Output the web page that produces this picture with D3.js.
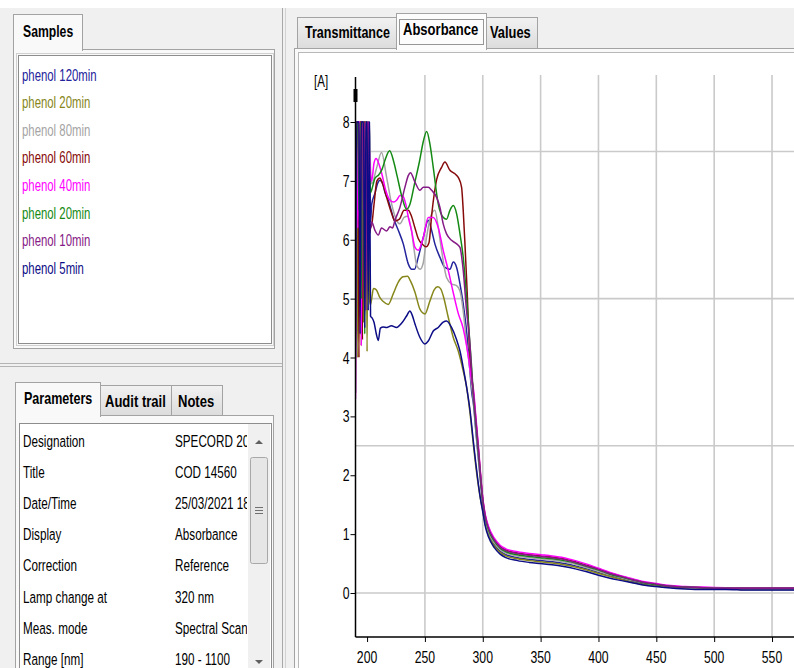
<!DOCTYPE html>
<html><head><meta charset="utf-8">
<script src="https://cdn.jsdelivr.net/npm/d3@7"></script>
<style>html,body{margin:0;padding:0;background:#f0f0f0;overflow:hidden}svg{display:block}</style>
</head><body><svg id="app" width="794" height="668"></svg>
<script>
// ---- samples ----
const sampleNames = ["phenol 120min","phenol 20min","phenol 80min","phenol 60min","phenol 40min","phenol 20min","phenol 10min","phenol 5min"];
const sampleColors = ["#23239c","#86861a","#a4a4a4","#870a0a","#ff00ff","#148a14","#861a86","#0c0c86"];

// ---- parameter table ----
const paramNames = ["Designation","Title","Date/Time","Display","Correction","Lamp change at","Meas. mode","Range [nm]"];
const paramValues = ["SPECORD 200","COD 14560","25/03/2021 18:","Absorbance","Reference","320 nm","Spectral Scan","190 - 1100"];

// ---- axes ----
const xTicks = [200,250,300,350,400,450,500,550];
const xGrid = [250,300,350,400,450,500,550,600];
const yTicks = [0,1,2,3,4,5,6,7,8];
const yGrid = [0,2.5,5,7.5];

// ---- spectra: saturated start (190-203 nm), absorption band, falling edge + tail ----
const noiseNm = [190,191,192,193,194,195,196,197,198,199,200,201,202,203];
const tailNm = [292,294,296,298,300,302,305,310,315,320,330,340,350,360,370,380,390,400,410,420,430,440,450,460,475,490,510,530,550,570];

// phenol 120min
const noise120 = [7.2,8,8,6.0,8,8,8,4.6,8,8,5.2,8,8,6.3];
const bandNm120 = [204,207,209,211.1,213.5,215.5,218.3,222.6,227,231.3,235.6,238.5,241,244.2,248.6,252.9,255.8,258.6,263,267.3,271.6,274.5,277.4,280.3,283.1,286,288.9,290.5];
const band120 = [6.6,6.8,6.95,7.01,6.95,6.8,6.67,6.38,6.16,5.93,5.59,5.5,5.5,5.7,6.04,6.33,6.16,5.93,5.7,5.53,5.5,5.62,5.53,5.25,4.91,4.45,3.77,3.4];
const tail120 = [3.2,2.75,2.32,1.9,1.5,1.23,1.01,0.82,0.71,0.65,0.60,0.57,0.55,0.53,0.50,0.46,0.41,0.35,0.29,0.24,0.19,0.15,0.12,0.10,0.08,0.07,0.07,0.06,0.06,0.06];

// phenol 20min (olive)
const noise20a = [4.2,8,4.0,8,8,4.2,8,4.6,8,8,4.1,8,5.0,4.9];
const bandNm20a = [204,205.5,208,211,214,218.3,222.6,227,231,235,237.5,241.4,245.7,250,254.3,258,261,263.5,265.8,270.2,274.5,278.8,283.1,286,289];
const band20a = [5.0,5.17,5.15,5.02,4.95,4.9,5.08,5.28,5.37,5.38,5.3,5.11,4.82,4.74,4.96,5.15,5.2,5.17,5.05,4.68,4.34,4.11,3.77,3.5,3.05];
const tail20a = [2.5,2.15,1.85,1.6,1.4,1.18,0.98,0.80,0.69,0.63,0.58,0.55,0.53,0.51,0.48,0.44,0.39,0.33,0.28,0.23,0.18,0.14,0.12,0.10,0.08,0.07,0.07,0.06,0.06,0.06];

// phenol 80min
const noise80 = [5.5,6.6,8,5.6,8,8,6.0,8,8,6.8,8,7.0,8,7.2];
const bandNm80 = [204,208,212.5,216.9,221.2,225.5,228.4,232,235,238,240.5,243,246,248.5,251.4,255.8,258.6,261.5,264.4,268.7,273,277.4,280.3,283.1,286,288.5,290.5];
const band80 = [6.95,7.2,7.48,7.06,6.61,6.33,6.27,6.38,6.4,6.2,5.85,5.56,5.5,5.6,6.04,6.44,6.5,6.21,5.82,5.36,5.25,5.22,5.13,4.79,4.23,3.85,3.5];
const tail80 = [3.25,2.8,2.36,1.93,1.53,1.26,1.04,0.85,0.74,0.68,0.63,0.60,0.58,0.56,0.53,0.49,0.43,0.37,0.31,0.26,0.21,0.17,0.14,0.11,0.09,0.08,0.08,0.07,0.07,0.07];

// phenol 60min
const noise60 = [4.4,8,8,4.0,8,8,4.3,8,8,6.5,8,6.3,6.1,6.2];
const bandNm60 = [204,206,208.5,211,213.5,216.9,221.2,224.1,228,232,235.6,238,241.4,244.2,248,251,253.5,256,260.1,264.4,267.3,271.6,275.9,278.8,281.7,283.1,284.6,286.6,288.3,290.3];
const band60 = [6.25,6.6,7.0,7.05,6.95,6.72,6.45,6.32,6.35,6.5,6.5,6.42,6.2,6.02,5.92,5.88,5.95,6.45,7.02,7.23,7.32,7.18,7.12,7.06,6.89,6.5,5.93,5.08,4.23,3.7];
const tail60 = [3.4,2.95,2.5,2.02,1.6,1.33,1.11,0.91,0.79,0.73,0.68,0.65,0.63,0.61,0.58,0.53,0.47,0.41,0.34,0.28,0.23,0.18,0.15,0.12,0.10,0.09,0.09,0.08,0.08,0.08];

// phenol 40min
const noise40 = [3.3,8,6.2,8,8,4.2,8,8,7.2,8,6.5,8,7.5,7.1];
const bandNm40 = [204,206,207.8,210,213,216,219.8,223,225.5,228.5,231,233.5,236,238.5,241.4,244.2,248.6,252.9,257.2,261.5,265.8,270.2,274.5,278.8,283,286,288,290];
const band40 = [7.0,7.3,7.38,7.3,7.1,6.85,6.67,6.64,6.67,6.75,6.74,6.6,6.35,6.15,5.87,5.82,6.04,6.38,6.38,6.21,5.82,5.48,5.1,4.75,4.5,4.2,3.95,3.65];
const tail40 = [3.45,3.0,2.55,2.05,1.62,1.35,1.13,0.93,0.81,0.75,0.70,0.67,0.65,0.63,0.60,0.55,0.49,0.42,0.35,0.29,0.24,0.19,0.16,0.13,0.11,0.10,0.09,0.09,0.09,0.09];

// phenol 20min (green)
const noise20b = [4.6,8,8,6.5,8,5.0,8,8,4.4,8,8,5.8,7.1,6.8];
const bandNm20b = [204,207,210,213,216,219.5,223,226,230,234,237,241,245.5,248.5,251.5,254.3,257.2,261.5,265.8,268.7,271.6,274.5,277.4,280.3,283.1,286,288.9,290.5];
const band20b = [6.85,7.05,7.1,7.2,7.38,7.51,7.33,7.08,6.74,6.52,6.6,6.95,7.35,7.66,7.84,7.63,7.23,6.61,6.38,6.35,6.5,6.58,6.44,6.1,5.7,5.02,4.23,3.8];
const tail20b = [3.32,2.88,2.44,1.97,1.56,1.29,1.07,0.88,0.76,0.70,0.65,0.62,0.60,0.58,0.55,0.51,0.45,0.39,0.32,0.27,0.22,0.17,0.14,0.12,0.10,0.09,0.08,0.08,0.08,0.08];

// phenol 10min
const noise10 = [3.4,8,8,8,5.5,8,8,6.5,8,4.8,8,8,6.3,6.2];
const bandNm10 = [204,206.8,209.7,212.5,216.9,219.8,222,224.1,228.4,232.7,235.6,237.5,241.4,245.7,248.6,252.9,255.8,260.1,263,265.8,268.7,273,277.4,280.3,283.1,286,288.9,290.3];
const band10 = [6.3,6.16,6.08,6.2,6.15,6.22,6.2,6.33,6.55,6.89,7.09,7.14,6.98,6.84,6.89,6.89,6.84,6.72,6.55,6.27,6.1,5.99,5.93,5.87,5.48,4.79,4.23,3.77];
const tail10 = [3.35,2.92,2.48,2.0,1.58,1.31,1.09,0.9,0.78,0.72,0.67,0.64,0.62,0.60,0.57,0.52,0.46,0.40,0.33,0.28,0.22,0.18,0.15,0.12,0.10,0.09,0.08,0.08,0.08,0.08];

// phenol 5min
const noise5 = [4.0,8,8,8,4.4,8,8,8,4.5,8,8,4.8,8,4.7];
const bandNm5 = [204,206,208,209.7,211.5,214,217,221,225.5,229.8,234,237,239,241.4,245.7,250,252.9,257.2,261.5,265.8,268.7,273,277.4,280.3,283.1,286,289];
const band5 = [4.68,4.6,4.4,4.29,4.5,4.52,4.51,4.54,4.51,4.58,4.7,4.79,4.72,4.57,4.34,4.23,4.28,4.45,4.51,4.6,4.62,4.51,4.3,4.11,3.83,3.5,3.1];
const tail5 = [2.55,2.2,1.88,1.6,1.38,1.15,0.95,0.77,0.66,0.60,0.55,0.52,0.50,0.48,0.45,0.41,0.36,0.30,0.25,0.21,0.17,0.13,0.11,0.09,0.07,0.06,0.06,0.05,0.05,0.05];

const spectra = [
  [noise120, bandNm120, band120, tail120],
  [noise20a, bandNm20a, band20a, tail20a],
  [noise80, bandNm80, band80, tail80],
  [noise60, bandNm60, band60, tail60],
  [noise40, bandNm40, band40, tail40],
  [noise20b, bandNm20b, band20b, tail20b],
  [noise10, bandNm10, band10, tail10],
  [noise5, bandNm5, band5, tail5]
].map(([nz, bn, b, t]) => [
  ...noiseNm.map((x, i) => [x, nz[i]]),
  ...bn.map((x, i) => [x, b[i]]),
  ...tailNm.map((x, i) => [x, t[i]])
]);

// ---------------------------------------------------------------
const svg = d3.select("#app");
const FONT = "'Liberation Sans', Arial, sans-serif";

function label(parent, x, y, s, o = {}) {
  return parent.append("text")
    .attr("transform", `translate(${x},${y}) scale(${o.sx || 0.7},1)`)
    .attr("font-family", FONT)
    .attr("font-size", o.size || 16.5)
    .attr("font-weight", o.bold ? "bold" : "normal")
    .attr("fill", o.fill || "#000")
    .attr("text-anchor", o.anchor || "start")
    .text(s);
}
function box(parent, x, y, w, h, fill, stroke) {
  return parent.append("rect").attr("x", x).attr("y", y).attr("width", w).attr("height", h)
    .attr("fill", fill).attr("stroke", stroke || "none").attr("stroke-width", 1);
}

const defs = svg.append("defs");
const tabGrad = defs.append("linearGradient").attr("id", "tabGrad").attr("x1", 0).attr("y1", 0).attr("x2", 0).attr("y2", 1);
tabGrad.append("stop").attr("offset", "0%").attr("stop-color", "#f2f2f2");
tabGrad.append("stop").attr("offset", "100%").attr("stop-color", "#dcdcdc");

// window background
box(svg, 0, 0, 794, 668, "#f0f0f0");
box(svg, 0, 0, 794, 8, "#ffffff");

// ---------- left: Samples ----------
const left = svg.append("g");
box(left, 13.5, 49.5, 261, 299, "#f9f9f9", "#a3a3a3");
box(left, 13.5, 14.5, 69, 36, "#f9f9f9", "#a3a3a3");
box(left, 14, 48, 68, 3, "#f9f9f9");
label(left, 23, 37, "Samples", {bold: true, sx: 0.74});
box(left, 18.5, 55.5, 253, 288, "#ffffff", "#8d8d8d");
box(left, 16.5, 53.5, 257, 292, "none", "#d0d0d0");
sampleNames.forEach((n, i) => label(left, 22, 80.5 + i * 27.6, n, {fill: sampleColors[i], sx: 0.69}));

// splitters
left.append("line").attr("x1", 0).attr("x2", 283).attr("y1", 363.5).attr("y2", 363.5).attr("stroke", "#b4b4b4");
left.append("line").attr("x1", 0).attr("x2", 283).attr("y1", 366.5).attr("y2", 366.5).attr("stroke", "#b4b4b4");
svg.append("line").attr("x1", 282.5).attr("x2", 282.5).attr("y1", 8).attr("y2", 668).attr("stroke", "#a8a8a8");
svg.append("line").attr("x1", 285.5).attr("x2", 285.5).attr("y1", 8).attr("y2", 668).attr("stroke", "#d2d2d2");

// ---------- left: Parameters ----------
box(left, 15.5, 415.5, 258, 260, "#f9f9f9", "#a3a3a3");
box(left, 100.5, 385.5, 71, 30, "url(#tabGrad)", "#a3a3a3");
box(left, 171.5, 385.5, 51, 30, "url(#tabGrad)", "#a3a3a3");
box(left, 15.5, 382.5, 85, 34, "#f9f9f9", "#a3a3a3");
box(left, 16, 414, 84, 3, "#f9f9f9");
label(left, 24, 404, "Parameters", {bold: true, sx: 0.76});
label(left, 105, 407, "Audit trail", {bold: true, sx: 0.79});
label(left, 178, 407, "Notes", {bold: true, sx: 0.79});
box(left, 19.5, 423.5, 252, 260, "#ffffff", "#8d8d8d");

defs.append("clipPath").attr("id", "valClip").append("rect").attr("x", 20).attr("y", 424).attr("width", 227).attr("height", 260);
const rows = left.append("g").attr("clip-path", "url(#valClip)");
paramNames.forEach((n, i) => {
  const y = 446.5 + i * 31.2;
  label(rows, 23, y, n, {sx: 0.71});
  label(rows, 175, y, paramValues[i], {sx: 0.71});
});

// scrollbar
const sb = left.append("g");
box(sb, 248, 424, 22, 260, "#f0f0f0");
sb.append("path").attr("d", "M255,444 L259,440 L263,444 Z").attr("fill", "#606060");
sb.append("rect").attr("x", 250.5).attr("y", 457.5).attr("width", 17).attr("height", 106).attr("rx", 2)
  .attr("fill", "#e6e6e6").attr("stroke", "#a8a8a8");
[507.5, 510.5, 513.5].forEach(y => sb.append("line").attr("x1", 255).attr("x2", 263).attr("y1", y).attr("y2", y).attr("stroke", "#707070"));
sb.append("path").attr("d", "M255,660 L259,664 L263,660 Z").attr("fill", "#606060");

// ---------- right: tabs + chart panel ----------
const right = svg.append("g");
box(right, 294.5, 48.5, 520, 640, "#f9f9f9", "#a3a3a3");
box(right, 297.5, 17.5, 99, 31, "url(#tabGrad)", "#a3a3a3");
box(right, 486.5, 17.5, 51, 31, "url(#tabGrad)", "#a3a3a3");
box(right, 396.5, 13.5, 90, 36, "#fcfcfc", "#a3a3a3");
box(right, 397, 47, 89, 3, "#fcfcfc");
label(right, 305, 37.5, "Transmittance", {bold: true, sx: 0.76});
label(right, 403, 35, "Absorbance", {bold: true, sx: 0.79});
label(right, 490, 37.5, "Values", {bold: true, sx: 0.78});
right.append("rect").attr("x", 399.5).attr("y", 19.5).attr("width", 84).attr("height", 25)
  .attr("fill", "none").attr("stroke", "#303030").attr("stroke-dasharray", "1,1");
box(right, 298.5, 52.5, 520, 640, "#ffffff", "#b8b8b8");

// ---------- plot ----------
const x = d3.scaleLinear().domain([190, 570]).range([355.5, 355.5 + 380 * 1.157]);
const y = d3.scaleLinear().domain([0, 8]).range([593, 122]);
const plotTop = 75, plotBottom = 637, plotLeft = 355.5, plotRight = 794;

const plot = svg.append("g");
plot.selectAll(".vg").data(xGrid).join("line")
  .attr("x1", d => x(d)).attr("x2", d => x(d)).attr("y1", plotTop).attr("y2", plotBottom)
  .attr("stroke", "#cacaca").attr("stroke-width", 1.6);
plot.selectAll(".hg").data(yGrid).join("line")
  .attr("x1", plotLeft).attr("x2", plotRight).attr("y1", d => y(d)).attr("y2", d => y(d))
  .attr("stroke", "#cacaca").attr("stroke-width", 1.6);

defs.append("clipPath").attr("id", "plotClip").append("rect")
  .attr("x", plotLeft).attr("y", plotTop).attr("width", plotRight - plotLeft).attr("height", plotBottom - plotTop);

const line = d3.line().x(d => x(d[0])).y(d => y(d[1])).curve(d3.curveMonotoneX);
plot.append("g").attr("clip-path", "url(#plotClip)")
  .selectAll("path").data(spectra).join("path")
  .attr("d", line).attr("fill", "none")
  .attr("stroke", (d, i) => sampleColors[i]).attr("stroke-width", 1.5).attr("stroke-linejoin", "round");

// y axis
const yAxis = d3.axisLeft(y).tickValues(yTicks).tickSize(5).tickPadding(3).tickFormat(d3.format("d"));
const ya = plot.append("g").attr("transform", `translate(${plotLeft},0)`).call(yAxis);
ya.select(".domain").remove();
ya.selectAll("line").attr("stroke", "#000");
ya.selectAll("text").remove();
yTicks.forEach(t => label(plot, plotLeft - 6, y(t) + 6, String(t), {size: 17, anchor: "end", sx: 0.72}));
plot.append("line").attr("x1", plotLeft).attr("x2", plotLeft).attr("y1", 77).attr("y2", plotBottom)
  .attr("stroke", "#000").attr("stroke-width", 1.5);
plot.append("rect").attr("x", plotLeft - 2).attr("y", 89).attr("width", 4).attr("height", 13).attr("fill", "#000");

// x axis
const xAxis = d3.axisBottom(x).tickValues(xTicks).tickSize(5).tickFormat(d3.format("d"));
const xa = plot.append("g").attr("transform", `translate(0,${plotBottom})`).call(xAxis);
xa.select(".domain").remove();
xa.selectAll("line").attr("stroke", "#000");
xa.selectAll("text").remove();
xTicks.forEach(t => label(plot, x(t), 662.5, String(t), {size: 17, anchor: "middle", sx: 0.72}));
plot.append("line").attr("x1", plotLeft).attr("x2", plotRight).attr("y1", plotBottom).attr("y2", plotBottom)
  .attr("stroke", "#000").attr("stroke-width", 1.5);

label(plot, 314, 87, "[A]", {size: 16, sx: 0.72});
</script></body></html>
